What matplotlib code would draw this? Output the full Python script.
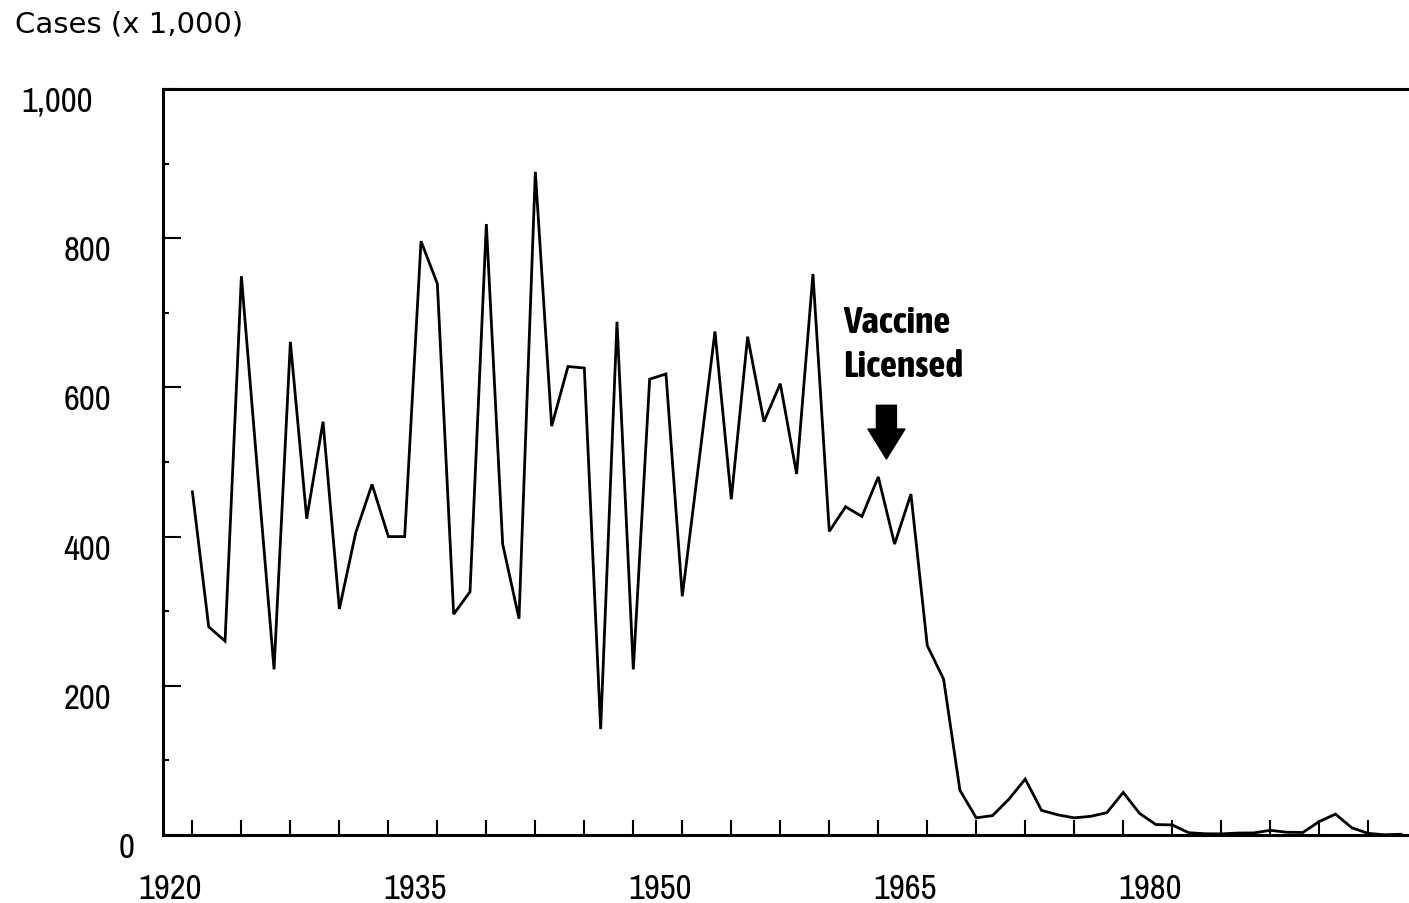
import matplotlib
matplotlib.use('Agg')
import matplotlib.pyplot as plt
from matplotlib import font_manager as fm
import numpy as np

# reported measles cases, thousands
years = list(range(1920, 1995))
cases = [460, 279, 260, 749, 484, 222, 661, 424, 554, 303,
         405, 470, 400, 400, 796, 739, 296, 326, 819, 390,
         290, 889, 548, 628, 626, 142, 688, 222, 611, 618,
         320, 497, 675, 450, 668, 554, 605, 484, 752, 407,
         440, 427, 480, 390, 457, 254, 209, 60, 23, 26,
         48, 75, 33, 27, 23, 25, 30, 57, 29, 14,
         13.5, 3.1, 1.7, 1.5, 2.6, 2.8, 6.3, 3.7, 3.4, 18,
         28, 9.6, 2.2, 0.3, 1.0]

ytick_vals = [0, 200, 400, 600, 800, 1000]
ytick_labels = ['0', '200', '400', '600', '800', '1,000']
xlabel_years = [1920, 1935, 1950, 1965, 1980]
vaccine_year = 1962.5
vaccine_label = 'Vaccine\nLicensed'

# the scanned labels are not lined up evenly, nudge a couple of them
ylabel_dx = {'1,000': -70, '0': -28}


def narrow_font(bold):
    found = []
    for f in fm.fontManager.ttflist:
        if f.style != 'normal':
            continue
        if ('Narrow' in f.name or 'Condensed' in f.name
                or f.stretch in ('condensed', 'semi-condensed', 'extra-condensed')):
            w = f.weight if isinstance(f.weight, int) else (700 if f.weight == 'bold' else 400)
            found.append((abs(w - (700 if bold else 400)), f.name, f.fname))
    found.sort()
    return found[0][2] if found else None


narrow = narrow_font(False)
narrow_b = narrow_font(True)
if narrow:
    tick_fp = fm.FontProperties(fname=narrow, size=25)
else:
    tick_fp = fm.FontProperties(family='DejaVu Sans', size=18)
if narrow_b:
    note_fp = fm.FontProperties(fname=narrow_b, size=27)
else:
    note_fp = fm.FontProperties(family='DejaVu Sans', weight='bold', size=19)

fig = plt.figure(figsize=(14.09, 9.04), dpi=100)
ax = fig.add_axes([163 / 1409, 68 / 904, 1 - 163 / 1409, 746 / 904])

ax.plot(years, cases, color='black', lw=2.0, solid_joinstyle='miter')

ax.set_xlim(1918.2, 1994.5)
ax.set_ylim(0, 1000)

for side in ['left', 'bottom', 'top']:
    ax.spines[side].set_linewidth(2.2)
ax.spines['right'].set_visible(False)

ax.set_yticks(ytick_vals)
ax.set_yticks([100, 300, 500, 700, 900], minor=True)
ax.set_xticks(np.arange(1920, 1994, 3))
ax.set_xticklabels([])
ax.set_yticklabels([])
ax.tick_params(axis='y', which='major', direction='in', length=13, width=1.5)
ax.tick_params(axis='y', which='minor', direction='in', length=4.5, width=1.5)
ax.tick_params(axis='x', which='major', direction='in', length=11, width=1.5)

# tick labels sit a bit off the ticks in the original
for v, lab in zip(ytick_vals, ytick_labels):
    ax.annotate(lab, xy=(0, v), xycoords=('axes fraction', 'data'),
                xytext=(ylabel_dx.get(lab, -52), -12), textcoords='offset pixels',
                ha='right', va='center', fontproperties=tick_fp)
for yr in xlabel_years:
    ax.annotate(str(yr), xy=(yr, 0), xycoords=('data', 'axes fraction'),
                xytext=(-22, -53), textcoords='offset pixels',
                ha='center', va='center', fontproperties=tick_fp)

fig.text(15 / 1409, 1 - 11 / 904, 'Cases (x 1,000)', ha='left', va='top',
         fontsize=21, family='DejaVu Sans')

ax.text(1959.85, 712, vaccine_label, ha='left', va='top',
        fontproperties=note_fp, linespacing=1.3)
ax.annotate('', xy=(vaccine_year, 504), xytext=(vaccine_year, 576),
            arrowprops=dict(arrowstyle='simple,head_width=1.85,head_length=1.5,tail_width=1.0',
                            mutation_scale=14.4, fc='black', ec='black',
                            shrinkA=0, shrinkB=0))

fig.savefig('out.png', dpi=100)
